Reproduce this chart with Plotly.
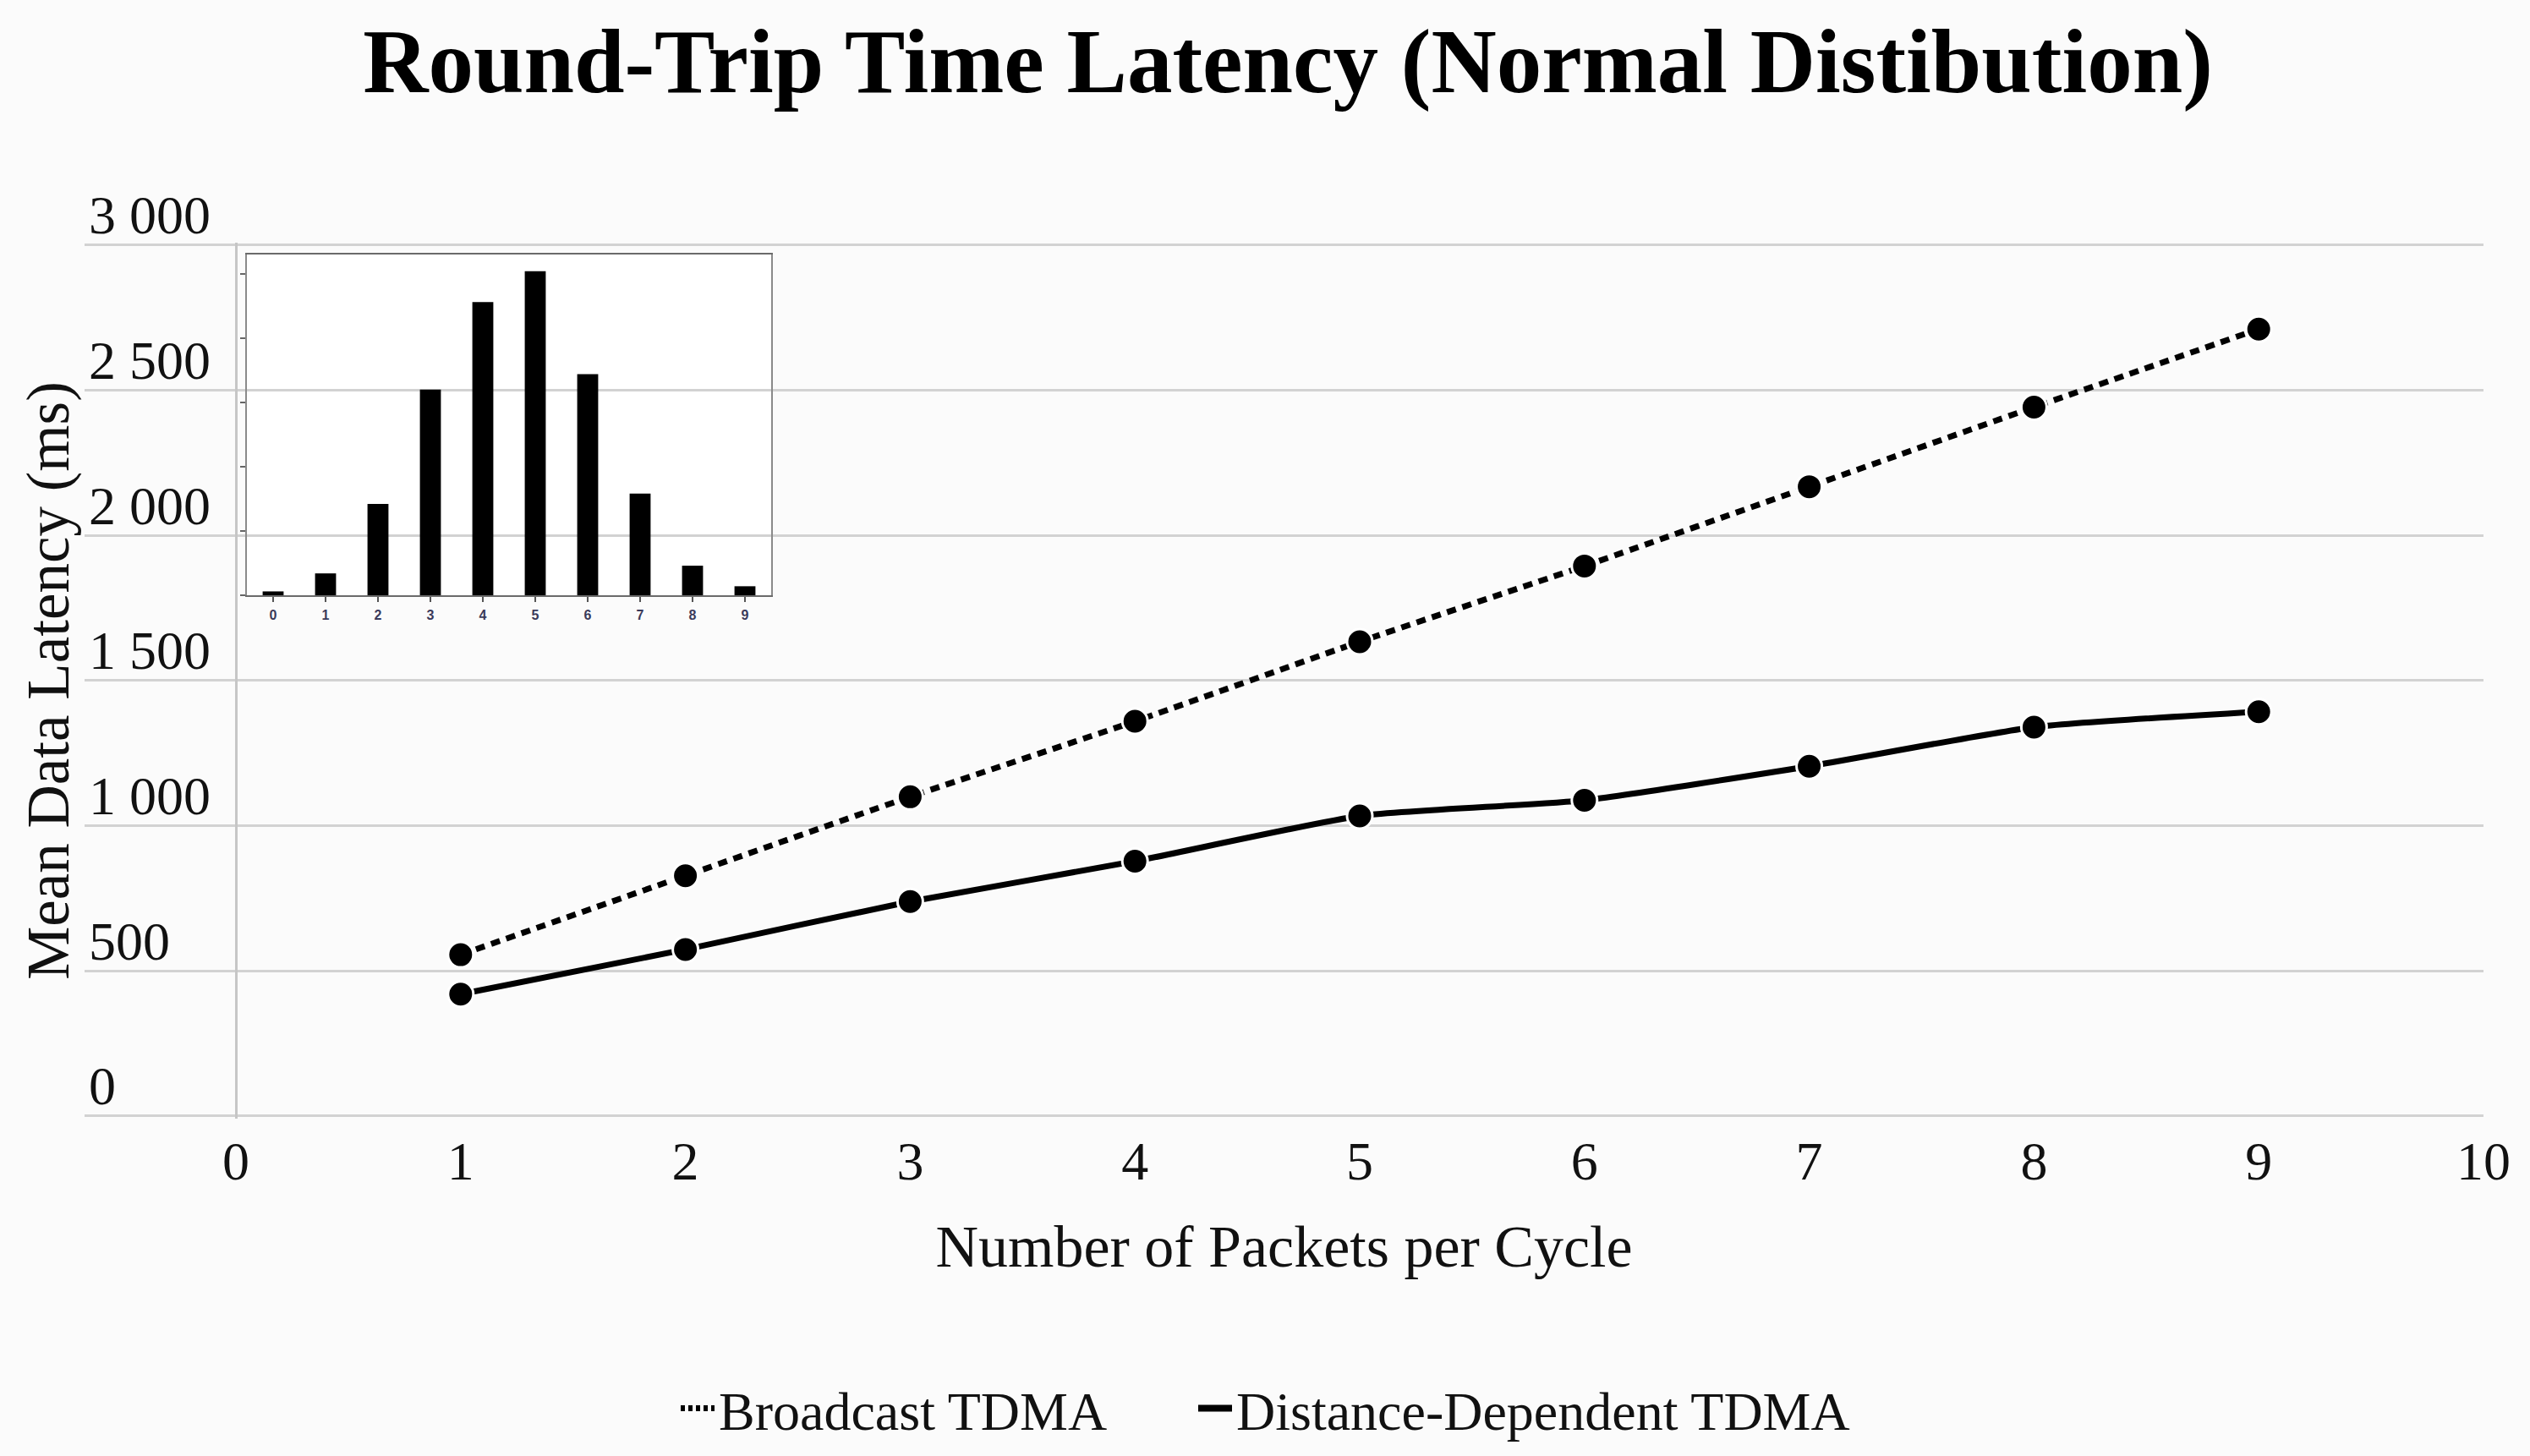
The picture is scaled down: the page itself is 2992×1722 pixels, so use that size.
import plotly.graph_objects as go

# ---------------- data ----------------
packets = [1, 2, 3, 4, 5, 6, 7, 8, 9]
broadcast_tdma = [556, 828, 1100, 1360, 1634, 1895, 2168, 2442, 2711]
distance_tdma = [420, 574, 739, 878, 1034, 1088, 1205, 1340, 1393]

x_ticks = [0, 1, 2, 3, 4, 5, 6, 7, 8, 9, 10]
y_ticks = [0, 500, 1000, 1500, 2000, 2500, 3000]
y_tick_text = ["0", "500", "1 000", "1 500", "2 000", "2 500", "3 000"]

hist_bins = [0, 1, 2, 3, 4, 5, 6, 7, 8, 9]
hist_pct = [0.3, 1.7, 7.1, 16.0, 22.8, 25.2, 17.2, 7.9, 2.3, 0.7]
hist_yticks = [0, 5, 10, 15, 20, 25]

# ---------------- layout constants ----------------
W, H = 2992, 1722
SERIF = "Liberation Serif, Times New Roman, serif"
BG = "#fbfbfb"

fig = go.Figure()

marker_style = dict(size=30, color="black", line=dict(color="white", width=3))

fig.add_trace(go.Scatter(
    x=packets, y=broadcast_tdma, mode="lines+markers",
    line=dict(color="black", width=7, dash="11px,8px", shape="spline", smoothing=0.5),
    marker=marker_style, showlegend=False, xaxis="x", yaxis="y",
    name="Broadcast TDMA"))
fig.add_trace(go.Scatter(
    x=packets, y=distance_tdma, mode="lines+markers",
    line=dict(color="black", width=7, shape="spline", smoothing=0.5),
    marker=marker_style, showlegend=False, xaxis="x", yaxis="y",
    name="Distance-Dependent TDMA"))

# legend-only entries (lines without markers, as in the reference)
fig.add_trace(go.Scatter(
    x=[None], y=[None], mode="lines", name="Broadcast TDMA",
    line=dict(color="black", width=7, dash="5px,4px"), legend="legend"))
fig.add_trace(go.Scatter(
    x=[None], y=[None], mode="lines", name="Distance-Dependent TDMA",
    line=dict(color="black", width=8), legend="legend2"))

# inset histogram
fig.add_trace(go.Bar(
    x=hist_bins, y=hist_pct, marker=dict(color="black", line=dict(width=0)),
    width=0.4, showlegend=False, xaxis="x2", yaxis="y2"))

x_left, x_right = 100, 2937
y_top, y_bottom = 290, 1320
x0_px = 279
unit = (x_right - x0_px) / 10.0
ypad = 10  # data units of padding so edge gridlines are drawn
ypx = (y_bottom - y_top) / 3000.0

legend_common = dict(
    orientation="h", xref="container", yref="container",
    xanchor="left", y=1 - 1666 / H, yanchor="middle",
    font=dict(family=SERIF, size=64, color="#111111"),
    bgcolor="rgba(0,0,0,0)", itemwidth=40, tracegroupgap=0)

fig.update_layout(
    width=W, height=H,
    paper_bgcolor=BG, plot_bgcolor="rgba(0,0,0,0)",
    margin=dict(l=0, r=0, t=0, b=0, autoexpand=False),
    font=dict(family=SERIF, color="#111111"),
    title=dict(
        text="Round-Trip Time Latency (Normal Distibution)",
        font=dict(family=SERIF, size=107, color="black", weight="bold"),
        x=1523 / W, xref="container", xanchor="center",
        y=1 - 72 / H, yref="container", yanchor="middle"),
    xaxis=dict(
        domain=[x_left / W, x_right / W],
        range=[-(x0_px - x_left) / unit, 10],
        tickvals=x_ticks, ticktext=[str(v) for v in x_ticks],
        showgrid=False, zeroline=True, zerolinecolor="#c6c6c6", zerolinewidth=3,
        showline=False, ticks="", automargin=False,
        tickfont=dict(family=SERIF, size=64, color="#111111"),
        ticklabelstandoff=7,
        title=dict(text="Number of Packets per Cycle",
                   font=dict(family=SERIF, size=70, color="#111111"),
                   standoff=40),
        anchor="y"),
    yaxis=dict(
        domain=[1 - (y_bottom + ypad * ypx) / H, 1 - (y_top - ypad * ypx) / H],
        range=[-ypad, 3000 + ypad],
        tickvals=y_ticks, ticktext=y_tick_text,
        showgrid=True, gridcolor="#d2d2d2", gridwidth=3,
        zeroline=False, showline=False, ticks="", automargin=False,
        ticklabelposition="inside", ticklabelshift=-36,
        ticklabeloverflow="allow", ticklabelstandoff=2,
        tickfont=dict(family=SERIF, size=64, color="#111111"),
        title=dict(text="Mean Data Latency (ms)",
                   font=dict(family=SERIF, size=71, color="#111111"),
                   standoff=0),
        anchor="x"),
    xaxis2=dict(
        domain=[292 / W, 912 / W], anchor="y2",
        range=[-0.5, 9.5], tickvals=hist_bins, automargin=False,
        showgrid=False, zeroline=False,
        showline=True, mirror=True, linecolor="#6a6a6a", linewidth=2,
        ticks="outside", ticklen=6, tickcolor="#555555", tickwidth=2,
        tickfont=dict(family="Liberation Sans, Arial, sans-serif", size=16,
                      color="#3a3a5a", weight="bold"),
        ticklabelstandoff=2),
    yaxis2=dict(
        domain=[1 - 704 / H, 1 - 301 / H], anchor="x2", automargin=False,
        range=[0, 26.5], tickvals=hist_yticks, showticklabels=False,
        showgrid=False, zeroline=False,
        showline=True, mirror=True, linecolor="#8a8a8a", linewidth=2,
        ticks="outside", ticklen=6, tickcolor="#666666", tickwidth=2),
    legend=dict(legend_common, x=800 / W),
    legend2=dict(legend_common, x=1412 / W),
    shapes=[dict(type="rect", xref="x2 domain", yref="y2 domain",
                 x0=0, x1=1, y0=0, y1=1, layer="below",
                 fillcolor="white", line=dict(width=0))],
    bargap=0.6,
)

fig.write_html("out.html",
               config={"displayModeBar": False},
               post_script="document.body.style.margin='0px';"
                           "document.body.style.overflow='hidden';")
